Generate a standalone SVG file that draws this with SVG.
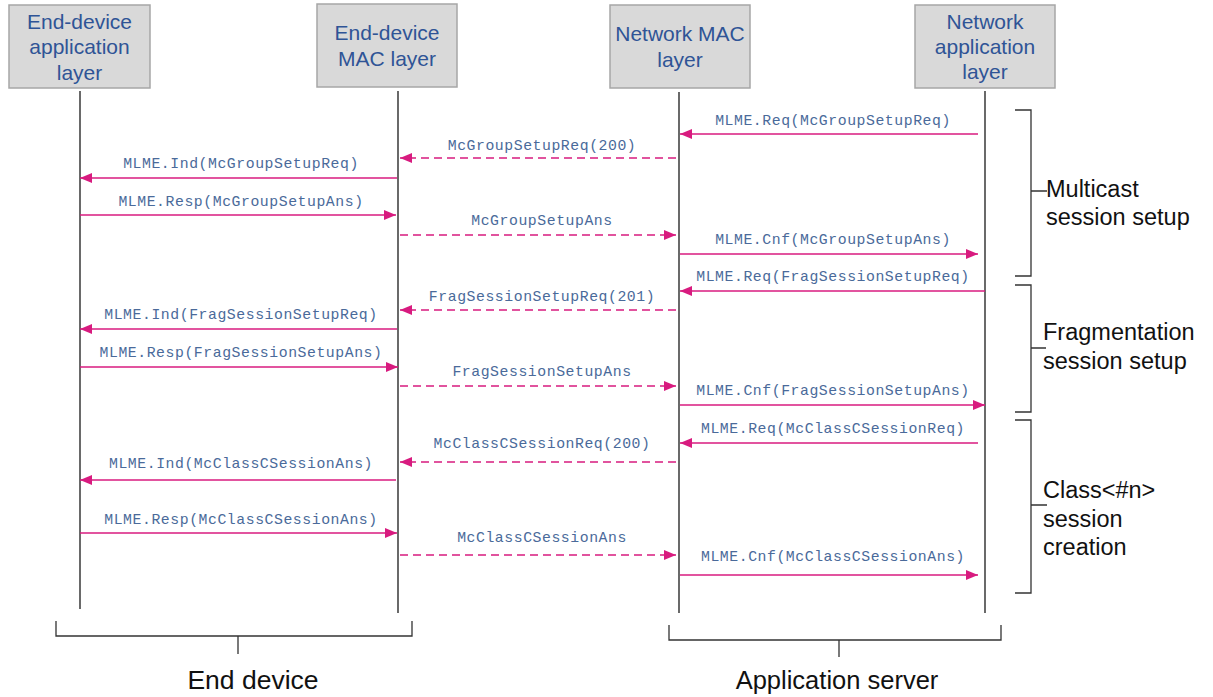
<svg xmlns="http://www.w3.org/2000/svg" width="1213" height="697" viewBox="0 0 1213 697">
<style>
.box{fill:#d9d9d9;stroke:#a6a6a6;stroke-width:1.5}
.ht{font-family:"Liberation Sans",Arial,sans-serif;font-size:21px;fill:#2f5496;text-anchor:middle}
.life{stroke:#1a1a1a;stroke-width:1.3;fill:none}
.msg{stroke:#d81b7f;stroke-width:1.6;fill:none;marker-end:url(#ah)}
.dash{stroke-dasharray:8 5}
.lbl{font-family:"Liberation Mono","Courier New",monospace;font-size:14.8px;letter-spacing:0.55px;fill:#4a6a9a;text-anchor:middle}
.br{stroke:#333;stroke-width:1.3;fill:none}
.bt{font-family:"Liberation Sans",Arial,sans-serif;font-size:23.5px;fill:#111}
.ft{font-family:"Liberation Sans",Arial,sans-serif;font-size:25.5px;fill:#111;text-anchor:middle}
</style>
<defs>
<marker id="ah" viewBox="0 0 12 10" refX="12" refY="5" markerWidth="12" markerHeight="10" orient="auto" markerUnits="userSpaceOnUse">
<path d="M0,0 L12,5 L0,10 z" fill="#d81b7f"/>
</marker>
</defs>
<rect width="1213" height="697" fill="#fff"/>

<g id="node-ed-app">
<rect class="box" x="9" y="5" width="141" height="83"/>
<text class="ht" x="79.5" y="28.5">End-device</text>
<text class="ht" x="79.5" y="53.5">application</text>
<text class="ht" x="79.5" y="79.5">layer</text>
<line class="life" x1="80" y1="91" x2="80" y2="609"/>
</g>
<g id="node-ed-mac">
<rect class="box" x="317" y="4" width="140" height="83"/>
<text class="ht" x="387" y="39.5">End-device</text>
<text class="ht" x="387" y="65.5">MAC layer</text>
<line class="life" x1="398" y1="91" x2="398" y2="613"/>
</g>
<g id="node-nw-mac">
<rect class="box" x="610" y="5" width="140" height="83"/>
<text class="ht" x="680" y="40.5">Network MAC</text>
<text class="ht" x="680" y="66.5">layer</text>
<line class="life" x1="679" y1="92" x2="679" y2="613"/>
</g>
<g id="node-nw-app">
<rect class="box" x="915" y="5" width="140" height="83"/>
<text class="ht" x="985" y="28.5">Network</text>
<text class="ht" x="985" y="53.5">application</text>
<text class="ht" x="985" y="78.5">layer</text>
<line class="life" x1="985" y1="91" x2="985" y2="613"/>
</g>

<g id="connectors">
<line class="msg" x1="978" y1="134" x2="680" y2="134"/>
<line class="msg dash" x1="676" y1="158" x2="400" y2="158"/>
<line class="msg" x1="397" y1="178" x2="80" y2="178"/>
<line class="msg" x1="80" y1="215" x2="396" y2="215"/>
<line class="msg dash" x1="400" y1="235" x2="676" y2="235"/>
<line class="msg" x1="680" y1="254" x2="978" y2="254"/>

<line class="msg" x1="985" y1="291" x2="680" y2="291"/>
<line class="msg dash" x1="676" y1="310" x2="400" y2="310"/>
<line class="msg" x1="397" y1="329" x2="80" y2="329"/>
<line class="msg" x1="80" y1="367" x2="398" y2="367"/>
<line class="msg dash" x1="400" y1="386" x2="676" y2="386"/>
<line class="msg" x1="680" y1="405" x2="985" y2="405"/>

<line class="msg" x1="978" y1="443" x2="680" y2="443"/>
<line class="msg dash" x1="676" y1="462" x2="400" y2="462"/>
<line class="msg" x1="396" y1="480" x2="80" y2="480"/>
<line class="msg" x1="80" y1="533" x2="397" y2="533"/>
<line class="msg dash" x1="400" y1="555" x2="676" y2="555"/>
<line class="msg" x1="680" y1="575" x2="978" y2="575"/>
</g>

<g id="labels">
<text class="lbl" x="833" y="125">MLME.Req(McGroupSetupReq)</text>
<text class="lbl" x="542" y="150">McGroupSetupReq(200)</text>
<text class="lbl" x="241" y="168">MLME.Ind(McGroupSetupReq)</text>
<text class="lbl" x="241" y="206">MLME.Resp(McGroupSetupAns)</text>
<text class="lbl" x="542" y="225">McGroupSetupAns</text>
<text class="lbl" x="833" y="244">MLME.Cnf(McGroupSetupAns)</text>

<text class="lbl" x="833" y="281">MLME.Req(FragSessionSetupReq)</text>
<text class="lbl" x="542" y="301">FragSessionSetupReq(201)</text>
<text class="lbl" x="241" y="319">MLME.Ind(FragSessionSetupReq)</text>
<text class="lbl" x="241" y="357">MLME.Resp(FragSessionSetupAns)</text>
<text class="lbl" x="542" y="376">FragSessionSetupAns</text>
<text class="lbl" x="833" y="395">MLME.Cnf(FragSessionSetupAns)</text>

<text class="lbl" x="833" y="433">MLME.Req(McClassCSessionReq)</text>
<text class="lbl" x="542" y="448">McClassCSessionReq(200)</text>
<text class="lbl" x="241" y="468">MLME.Ind(McClassCSessionAns)</text>
<text class="lbl" x="241" y="524">MLME.Resp(McClassCSessionAns)</text>
<text class="lbl" x="542" y="542">McClassCSessionAns</text>
<text class="lbl" x="833" y="561">MLME.Cnf(McClassCSessionAns)</text>
</g>

<g id="bracket-multicast">
<path class="br" d="M1015,110 H1031 V276 H1015 M1031,191 H1047"/>
<text class="bt" x="1046" y="197">Multicast</text>
<text class="bt" x="1046" y="225">session setup</text>
</g>
<g id="bracket-frag">
<path class="br" d="M1015,285 H1031 V412 H1015 M1031,348 H1046"/>
<text class="bt" x="1043" y="340">Fragmentation</text>
<text class="bt" x="1043" y="369">session setup</text>
</g>
<g id="bracket-class">
<path class="br" d="M1015,420 H1031 V593 H1015 M1031,505 H1047"/>
<text class="bt" x="1043" y="498">Class&lt;#n&gt;</text>
<text class="bt" x="1043" y="527">session</text>
<text class="bt" x="1043" y="555">creation</text>
</g>

<g id="bracket-end-device">
<path class="br" d="M56,621 V636 H412 V621 M238,636 V654"/>
<text class="ft" x="253" y="689" style="font-size:26.5px">End device</text>
</g>
<g id="bracket-app-server">
<path class="br" d="M669,625 V640 H1001 V625 M839,640 V657"/>
<text class="ft" x="837" y="689">Application server</text>
</g>
</svg>
